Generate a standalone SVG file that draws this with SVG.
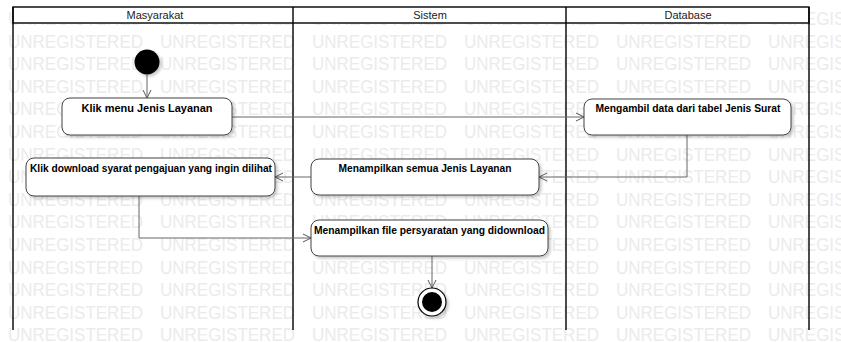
<svg xmlns="http://www.w3.org/2000/svg" xmlns:xlink="http://www.w3.org/1999/xlink" width="841" height="342" viewBox="0 0 841 342">
  <style>
    .wm { font-family: "Liberation Sans", Arial, sans-serif; font-size: 19px; fill: #ebebeb; }
    .lane { fill: none; stroke: #000; stroke-width: 1.4; }
    .hdr { fill: #fff; stroke: #000; stroke-width: 1.4; }
    .hdrtxt { font-family: "Liberation Sans", Arial, sans-serif; font-size: 11px; fill: #222; text-anchor: middle; }
    .box { fill: #fff; stroke: #444; stroke-width: 1; filter: url(#sh); }
    .lbl { font-family: "Liberation Sans", Arial, sans-serif; font-size: 11px; font-weight: bold; fill: #000; text-anchor: middle; }
    .conn { fill: none; stroke: #666; stroke-width: 1; marker-end: url(#arr); }
  </style>
  <defs>
    <marker id="arr" markerUnits="userSpaceOnUse" markerWidth="12" markerHeight="12" refX="9" refY="5" orient="auto">
      <path d="M1,1 L9,5 L1,9" fill="none" stroke="#555" stroke-width="1"/>
    </marker>
    <filter id="sh" x="-20%" y="-20%" width="140%" height="150%">
      <feDropShadow dx="2" dy="2" stdDeviation="1.5" flood-color="#000" flood-opacity="0.22"/>
    </filter>
    <g id="wmrow">
      <text class="wm" x="8" textLength="135" lengthAdjust="spacingAndGlyphs">UNREGISTERED</text>
      <text class="wm" x="160" textLength="135" lengthAdjust="spacingAndGlyphs">UNREGISTERED</text>
      <text class="wm" x="312" textLength="135" lengthAdjust="spacingAndGlyphs">UNREGISTERED</text>
      <text class="wm" x="464" textLength="135" lengthAdjust="spacingAndGlyphs">UNREGISTERED</text>
      <text class="wm" x="616" textLength="135" lengthAdjust="spacingAndGlyphs">UNREGISTERED</text>
      <text class="wm" x="768" textLength="135" lengthAdjust="spacingAndGlyphs">UNREGISTERED</text>
    </g>
  </defs>

  <rect width="841" height="342" fill="#fff"/>

  <g id="watermark">
    <use xlink:href="#wmrow" href="#wmrow" y="25"/>
    <use xlink:href="#wmrow" href="#wmrow" y="47.6"/>
    <use xlink:href="#wmrow" href="#wmrow" y="70.2"/>
    <use xlink:href="#wmrow" href="#wmrow" y="92.8"/>
    <use xlink:href="#wmrow" href="#wmrow" y="115.4"/>
    <use xlink:href="#wmrow" href="#wmrow" y="138"/>
    <use xlink:href="#wmrow" href="#wmrow" y="160.6"/>
    <use xlink:href="#wmrow" href="#wmrow" y="183.2"/>
    <use xlink:href="#wmrow" href="#wmrow" y="205.8"/>
    <use xlink:href="#wmrow" href="#wmrow" y="228.4"/>
    <use xlink:href="#wmrow" href="#wmrow" y="251"/>
    <use xlink:href="#wmrow" href="#wmrow" y="273.6"/>
    <use xlink:href="#wmrow" href="#wmrow" y="296.2"/>
    <use xlink:href="#wmrow" href="#wmrow" y="318.8"/>
    <use xlink:href="#wmrow" href="#wmrow" y="341.4"/>
  </g>

  <g id="swimlanes">
    <rect class="hdr" x="13" y="7" width="796" height="16"/>
    <line class="lane" x1="13" y1="7" x2="13" y2="330"/>
    <line class="lane" x1="293" y1="7" x2="293" y2="330"/>
    <line class="lane" x1="566" y1="7" x2="566" y2="330"/>
    <line class="lane" x1="809" y1="7" x2="809" y2="330"/>
    <text class="hdrtxt" x="155" y="19">Masyarakat</text>
    <text class="hdrtxt" x="430" y="19">Sistem</text>
    <text class="hdrtxt" x="688" y="19">Database</text>
  </g>

  <g id="connectors">
    <line class="conn" x1="147" y1="75" x2="147" y2="98"/>
    <line class="conn" x1="232" y1="117" x2="584" y2="117"/>
    <polyline class="conn" points="687,135 687,177 539,177"/>
    <line class="conn" x1="311" y1="177" x2="275" y2="177"/>
    <polyline class="conn" points="139,196 139,238 311,238"/>
    <line class="conn" x1="432" y1="256" x2="432" y2="288"/>
  </g>

  <g id="start">
    <circle cx="147" cy="62" r="12.5" fill="#000" filter="url(#sh)"/>
  </g>

  <g id="klik-menu">
    <rect class="box" x="62" y="98" width="170" height="37" rx="8"/>
    <text class="lbl" x="147" y="112" textLength="131" lengthAdjust="spacingAndGlyphs">Klik menu Jenis Layanan</text>
  </g>

  <g id="mengambil-data">
    <rect class="box" x="584" y="99" width="207" height="36" rx="8"/>
    <text class="lbl" x="688" y="112" textLength="185" lengthAdjust="spacingAndGlyphs">Mengambil data dari tabel Jenis Surat</text>
  </g>

  <g id="menampilkan-semua">
    <rect class="box" x="311" y="159" width="228" height="36" rx="8"/>
    <text class="lbl" x="425" y="172" textLength="173" lengthAdjust="spacingAndGlyphs">Menampilkan semua Jenis Layanan</text>
  </g>

  <g id="klik-download">
    <rect class="box" x="26" y="158" width="249" height="38" rx="8"/>
    <text class="lbl" x="151" y="172" textLength="242" lengthAdjust="spacingAndGlyphs">Klik download syarat pengajuan yang ingin dilihat</text>
  </g>

  <g id="menampilkan-file">
    <rect class="box" x="311" y="220" width="237" height="36" rx="8"/>
    <text class="lbl" x="429.5" y="234" textLength="231" lengthAdjust="spacingAndGlyphs">Menampilkan file persyaratan yang didownload</text>
  </g>

  <g id="end">
    <circle cx="432" cy="302" r="14" fill="#fff" stroke="#000" stroke-width="1.2" filter="url(#sh)"/>
    <circle cx="432" cy="302" r="10" fill="#000"/>
  </g>
</svg>
